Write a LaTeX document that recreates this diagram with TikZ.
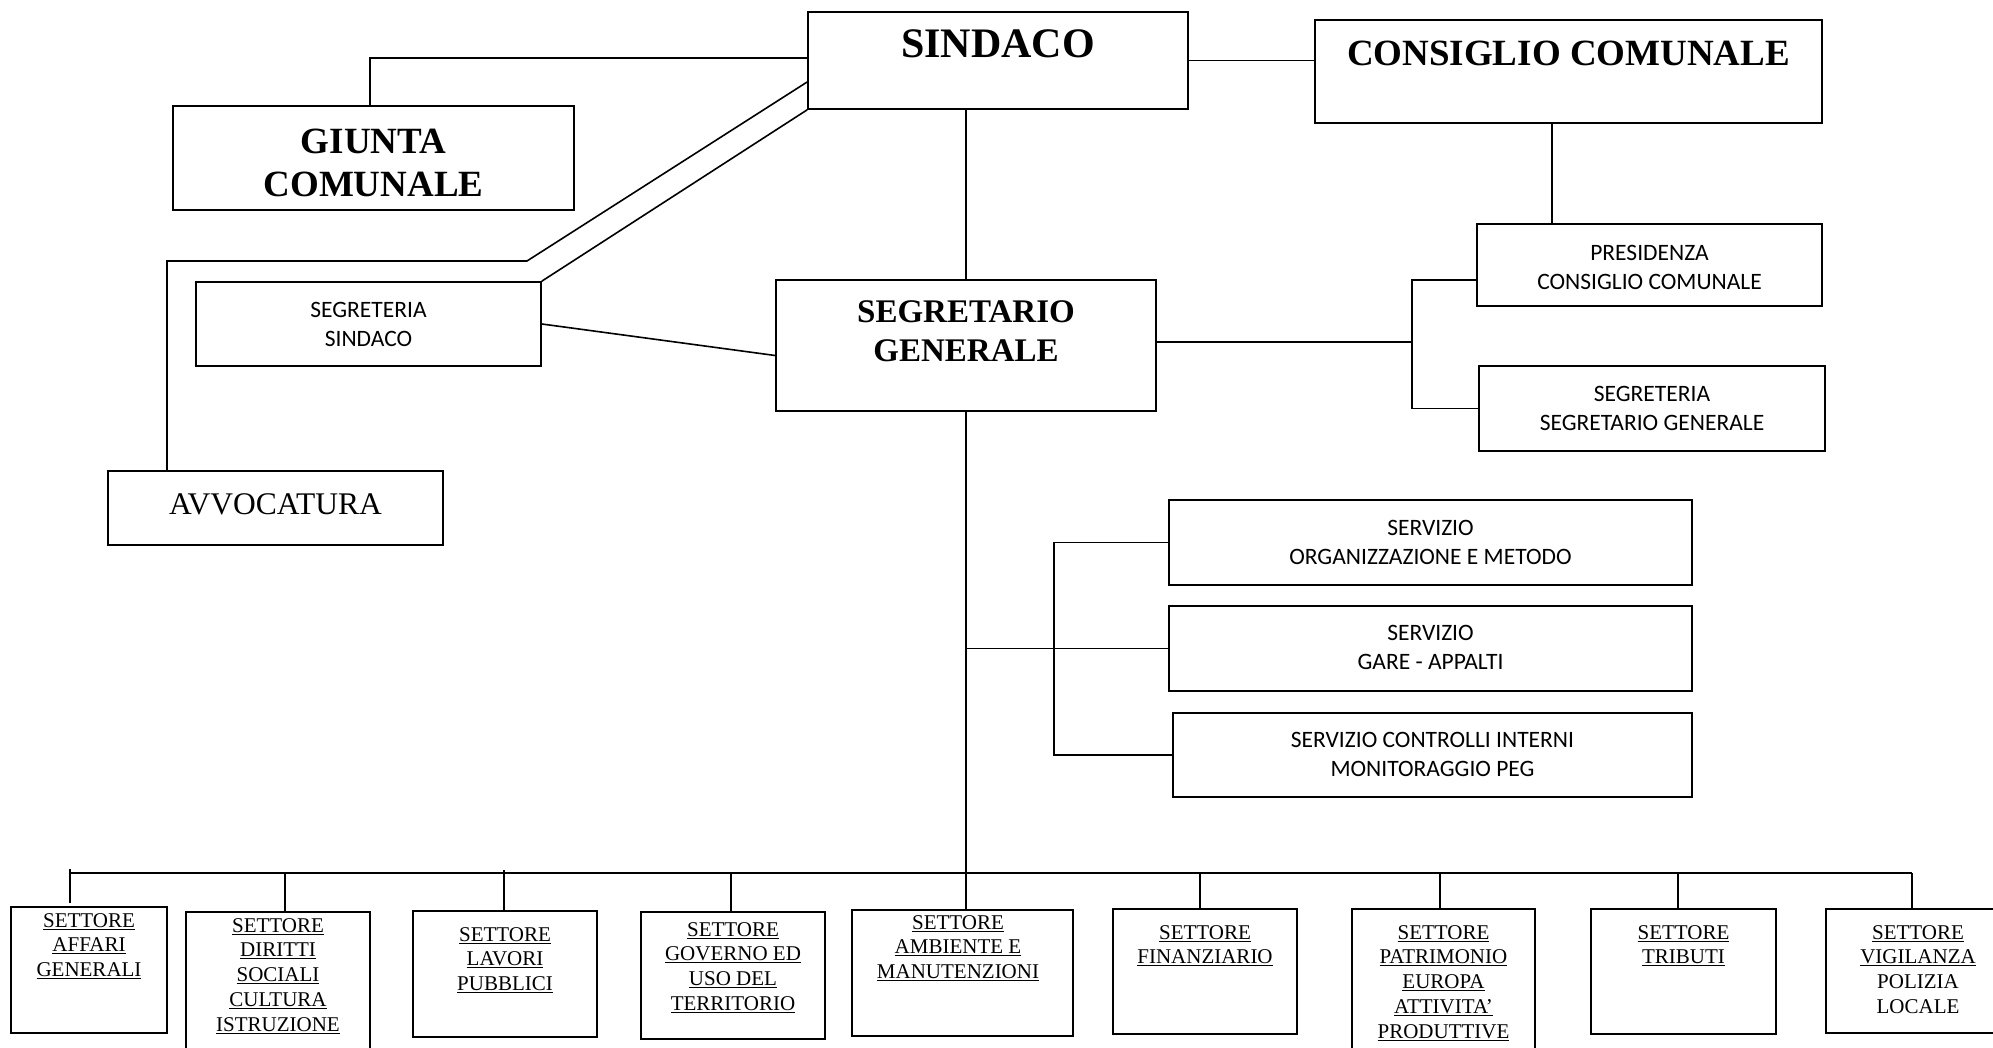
\documentclass[tikz,border=0pt]{standalone}
\usepackage{fontspec}
\setmainfont{Liberation Serif}
\newfontfamily\calfont{Carlito}
\usetikzlibrary{calc}
\newcommand\ulx[1]{\underline{#1}}
\tikzset{
  box/.style={draw, line width=1.7pt, rectangle, inner sep=0pt},
  conn/.style={line width=1.6pt},
  bigtxt/.style={anchor=north, inner sep=0pt, align=center, font=\bfseries},
  caltxt/.style={anchor=north, inner sep=0pt, align=center, font=\calfont\fontsize{23.5}{29}\selectfont},
  settxt/.style={anchor=north, inner sep=0pt, align=center, font=\fontsize{21}{24.8}\selectfont},
}
\begin{document}
\begin{tikzpicture}[x=1pt, y=-1pt]
\useasboundingbox (0,0) rectangle (1993,1048);
% ---------- boxes ----------
\node[box, minimum width=380, minimum height=97] (sindaco) at (998,60.5) {};
\node[box, minimum width=507, minimum height=103] (consiglio) at (1568.5,71.5) {};
\node[box, minimum width=401, minimum height=104] (giunta) at (373.5,158) {};
\node[box, minimum width=345, minimum height=84] (segsind) at (368.5,324) {};
\node[box, minimum width=335, minimum height=74] (avv) at (275.5,508) {};
\node[box, minimum width=380, minimum height=131] (segretario) at (966,345.5) {};
\node[box, minimum width=345, minimum height=82] (presidenza) at (1649.5,265) {};
\node[box, minimum width=346, minimum height=85] (segsg) at (1652,408.5) {};
\node[box, minimum width=523, minimum height=85] (org) at (1430.5,542.5) {};
\node[box, minimum width=523, minimum height=85] (gare) at (1430.5,648.5) {};
\node[box, minimum width=519, minimum height=84] (controlli) at (1432.5,755) {};
% settori
\node[box, minimum width=156, minimum height=126] (s1) at (89,970) {};
\node[box, minimum width=184, minimum height=170] (s2) at (278,997) {};
\node[box, minimum width=184, minimum height=126] (s3) at (505,974) {};
\node[box, minimum width=184, minimum height=127] (s4) at (733,975.5) {};
\node[box, minimum width=221, minimum height=126] (s5) at (962.5,973) {};
\node[box, minimum width=184, minimum height=125] (s6) at (1205,971.5) {};
\node[box, minimum width=183, minimum height=170] (s7) at (1443.5,994) {};
\node[box, minimum width=185, minimum height=125] (s8) at (1683.5,971.5) {};
\node[box, minimum width=184, minimum height=124] (s9) at (1918,971) {};
% ---------- texts ----------
\node[bigtxt, font=\bfseries\fontsize{42}{46}\selectfont] (t-sindaco) at (998,29) {SINDACO};
\node[bigtxt, font=\bfseries\fontsize{37}{42}\selectfont] (t-consiglio) at (1568.5,41) {CONSIGLIO COMUNALE};
\node[bigtxt, font=\bfseries\fontsize{37}{43}\selectfont] (t-giunta) at (373.5,129) {GIUNTA\\COMUNALE};
\node[bigtxt, font=\bfseries\fontsize{33}{39}\selectfont] (t-segretario) at (966,300) {SEGRETARIO\\GENERALE};
\node[settxt, font=\fontsize{31.5}{36}\selectfont] (t-avv) at (275.5,493) {AVVOCATURA};
\node[caltxt] (t-segsind) at (368.5,302) {SEGRETERIA\\SINDACO};
\node[caltxt] (t-presidenza) at (1649.5,245) {PRESIDENZA\\CONSIGLIO COMUNALE};
\node[caltxt] (t-segsg) at (1652,386) {SEGRETERIA\\SEGRETARIO GENERALE};
\node[caltxt] (t-org) at (1430.5,520) {SERVIZIO\\ORGANIZZAZIONE E METODO};
\node[caltxt] (t-gare) at (1430.5,625) {SERVIZIO\\GARE - APPALTI};
\node[caltxt] (t-controlli) at (1432.5,732) {SERVIZIO CONTROLLI INTERNI\\MONITORAGGIO PEG};
\node[settxt] (t-s1) at (89,913) {\ulx{SETTORE}\\\ulx{AFFARI}\\\ulx{GENERALI}};
\node[settxt] (t-s2) at (278,918) {\ulx{SETTORE}\\\ulx{DIRITTI}\\\ulx{SOCIALI}\\\ulx{CULTURA}\\\ulx{ISTRUZIONE}};
\node[settxt] (t-s3) at (505,927) {\ulx{SETTORE}\\\ulx{LAVORI}\\\ulx{PUBBLICI}};
\node[settxt] (t-s4) at (733,922) {\ulx{SETTORE}\\\ulx{GOVERNO ED}\\\ulx{USO DEL}\\\ulx{TERRITORIO}};
\node[settxt] (t-s5) at (958,915) {\ulx{SETTORE}\\\ulx{AMBIENTE E}\\\ulx{MANUTENZIONI}};
\node[settxt] (t-s6) at (1205,925) {\ulx{SETTORE}\\\ulx{FINANZIARIO}};
\node[settxt] (t-s7) at (1443.5,925) {\ulx{SETTORE}\\\ulx{PATRIMONIO}\\\ulx{EUROPA}\\\ulx{ATTIVITA’}\\\ulx{PRODUTTIVE}};
\node[settxt] (t-s8) at (1683.5,925) {\ulx{SETTORE}\\\ulx{TRIBUTI}};
\node[settxt] (t-s9) at (1918,925) {\ulx{SETTORE}\\\ulx{VIGILANZA}\\POLIZIA\\LOCALE};
% ---------- connectors ----------
\coordinate (gj) at (370,58);
\draw[conn] (sindaco.west |- gj) -- (gj) -- (gj |- giunta.north);
\draw[conn] (sindaco.east) -- (consiglio.west |- sindaco.east);
\coordinate (k1) at (527,261);
\coordinate (k2) at (167,261);
\draw[conn] (sindaco.west |- 0,82) -- (k1) -- (k2) -- (k2 |- avv.north);
\draw[conn] (sindaco.south west) -- (segsind.north east);
\draw[conn] (segsind.east) -- ($(segretario.west)+(0,10)$);
\draw[conn] (segretario.north |- sindaco.south) -- (segretario.north);
\coordinate (cp) at (1552,0);
\draw[conn] (consiglio.south -| cp) -- (presidenza.north -| cp);
\coordinate (j1) at (1412,342);
\draw[conn] (segretario.east |- j1) -- (j1);
\draw[conn] (presidenza.west |- 0,280) -| (j1) |- (segsg.west);
\coordinate (j2) at (1054,0);
\draw[conn] (org.west) -| (j2 |- controlli.west) -- (controlli.west);
\draw[conn] (segretario.south |- gare.west) -- (gare.west);
\draw[conn] (segretario.south) -- (segretario.south |- s5.north);
% bus
\coordinate (busL) at (70,873);
\coordinate (busR) at (1912,873);
\draw[conn] (busL) -- (busR);
\draw[conn] (70,869) -- (70,903);
\coordinate (d2) at (285,873);
\coordinate (d3) at (504,870);
\coordinate (d4) at (731,873);
\coordinate (d6) at (1200,873);
\coordinate (d7) at (1440,873);
\coordinate (d8) at (1678,873);
\draw[conn] (d2) -- (d2 |- s2.north);
\draw[conn] (d3) -- (d3 |- s3.north);
\draw[conn] (d4) -- (d4 |- s4.north);
\draw[conn] (d6) -- (d6 |- s6.north);
\draw[conn] (d7) -- (d7 |- s7.north);
\draw[conn] (d8) -- (d8 |- s8.north);
\draw[conn] (busR) -- (busR |- s9.north);
\end{tikzpicture}
\end{document}
